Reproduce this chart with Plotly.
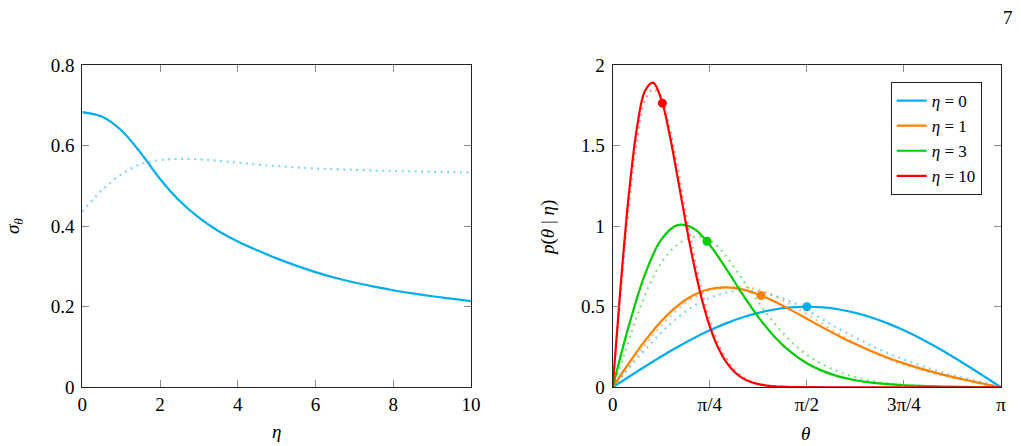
import plotly.graph_objects as go

# ---------------- data: left panel ----------------
eta_grid = [0, 0.5, 1, 1.5, 2, 2.5, 3, 3.5, 4, 4.5, 5, 5.5, 6, 6.5, 7, 7.5, 8, 8.5, 9, 9.5, 10]
sigma_solid = [0.683, 0.672, 0.638, 0.582, 0.517, 0.463, 0.421, 0.388, 0.362, 0.340, 0.320,
               0.302, 0.286, 0.272, 0.260, 0.250, 0.241, 0.233, 0.226, 0.220, 0.214]
sigma_dotted = [0.436, 0.489, 0.528, 0.554, 0.564, 0.567, 0.566, 0.562, 0.558, 0.553, 0.549,
                0.546, 0.543, 0.541, 0.540, 0.538, 0.537, 0.536, 0.535, 0.534, 0.533]

# ---------------- data: right panel ----------------
theta_a = [0, 0.1309, 0.2618, 0.3927, 0.5236, 0.6545, 0.7854, 0.9163, 1.0472, 1.1781, 1.3090,
           1.4399, 1.5708, 1.7017, 1.8326, 1.9635, 2.0944, 2.2253, 2.3562, 2.4871, 2.6180,
           2.7489, 2.8798, 3.0107, 3.1416]
p_eta0 = [0, 0.0653, 0.1294, 0.1913, 0.25, 0.3044, 0.3536, 0.3967, 0.4330, 0.4619, 0.4830,
          0.4957, 0.5, 0.4957, 0.4830, 0.4619, 0.4330, 0.3967, 0.3536, 0.3044, 0.25, 0.1913,
          0.1294, 0.0653, 0]
p_eta1 = [0, 0.1497, 0.2893, 0.4101, 0.5057, 0.5726, 0.6101, 0.6205, 0.6075, 0.5763, 0.5324,
          0.4806, 0.4255, 0.3702, 0.3173, 0.2681, 0.2235, 0.1836, 0.1483, 0.1172, 0.0895,
          0.0646, 0.0419, 0.0206, 0]
p_eta3 = [0, 0.3826, 0.7027, 0.9159, 1.0060, 0.9849, 0.8833, 0.7378, 0.5811, 0.4360,
          0.3144, 0.2196, 0.1497, 0.1004, 0.0665, 0.0439, 0.0289, 0.0191, 0.0127, 0.0084,
          0.0056, 0.0036, 0.0021, 0.0010, 0]
theta_c = [0, 0.0654, 0.1309, 0.1963, 0.2618, 0.3272, 0.3927, 0.4581, 0.5236, 0.5890, 0.6545,
           0.7199, 0.7854, 0.8508, 0.9163, 0.9817, 1.0472, 1.1126, 1.1781, 1.2435, 1.3090,
           1.4399, 1.5708, 1.8326, 2.0944, 2.3562, 2.6180, 2.8798, 3.1416]
p_eta10 = [0, 0.6402, 1.1982, 1.6098, 1.8408, 1.8906, 1.7876, 1.5770, 1.3097, 1.0300, 0.7709,
           0.5512, 0.3779, 0.2492, 0.1586, 0.0977, 0.0584, 0.0340, 0.0193, 0.0107, 0.0058,
           0.0016, 0.0005, 0, 0, 0, 0, 0, 0]

theta_d = [0, 0.1, 0.2, 0.3, 0.4, 0.5, 0.6, 0.7, 0.8, 0.9, 1.0, 1.1, 1.2, 1.3, 1.4, 1.5, 1.6,
           1.7, 1.8, 1.9, 2.0, 2.1, 2.2, 2.3, 2.4, 2.5, 2.6, 2.7, 2.8, 2.9, 3.0, 3.1416]
q_eta0 = [0, 0.09, 0.18, 0.265, 0.345, 0.415, 0.475, 0.525, 0.56, 0.585, 0.598, 0.60, 0.59,
          0.57, 0.545, 0.51, 0.467, 0.421, 0.376, 0.334, 0.295, 0.256, 0.220, 0.188, 0.160,
          0.133, 0.108, 0.086, 0.066, 0.047, 0.030, 0]
q_eta1 = [0, 0.10, 0.20, 0.30, 0.39, 0.465, 0.53, 0.575, 0.605, 0.62, 0.625, 0.62, 0.60, 0.57,
          0.53, 0.485, 0.44, 0.392, 0.345, 0.300, 0.258, 0.220, 0.185, 0.156, 0.130, 0.107,
          0.085, 0.067, 0.050, 0.034, 0.019, 0]
q_eta3 = [0, 0.22, 0.45, 0.64, 0.78, 0.87, 0.92, 0.935, 0.905, 0.83, 0.725, 0.615, 0.505, 0.405,
          0.318, 0.245, 0.185, 0.141, 0.105, 0.077, 0.055, 0.039, 0.027, 0.018, 0.012, 0.008,
          0.005, 0.003, 0.002, 0.001, 0.0005, 0]
q_eta10 = [0, 0.60, 1.12, 1.53, 1.78, 1.85, 1.80, 1.62, 1.37, 1.09, 0.83, 0.60, 0.415, 0.28,
           0.18, 0.112, 0.068, 0.040, 0.023, 0.013, 0.007, 0.002, 0.0006, 0, 0, 0, 0, 0, 0]

theta_mean = [1.5708, 1.200, 0.763, 0.402]
p_mean = [0.5, 0.569, 0.906, 1.763]

labels = ["0", "1", "3", "10"]
x_ticks_left = [0, 2, 4, 6, 8, 10]
y_ticks_left = [0, 0.2, 0.4, 0.6, 0.8]
y_ticks_left_text = ["0", "0.2", "0.4", "0.6", "0.8"]
x_ticks_right = [0, 0.7854, 1.5708, 2.3562, 3.1416]
x_ticks_right_text = ["0", "π/4", "π/2", "3π/4", "π"]
y_ticks_right = [0, 0.5, 1, 1.5, 2]
y_ticks_right_text = ["0", "0.5", "1", "1.5", "2"]

colors = ["#00AEEF", "#FF8000", "#00CC00", "#FF0000"]
colors_light = ["rgba(0,174,239,0.5)", "rgba(255,128,0,0.5)", "rgba(0,204,0,0.5)", "rgba(255,0,0,0.45)"]

FONT = "Liberation Serif"
FS = 19

fig = go.Figure()

DOT = "2px,4.5px"

# left panel
fig.add_trace(go.Scatter(x=eta_grid, y=sigma_dotted, mode="lines", xaxis="x", yaxis="y",
                         line=dict(color=colors_light[0], width=2.2, dash=DOT, shape="spline"),
                         showlegend=False, hoverinfo="skip"))
fig.add_trace(go.Scatter(x=eta_grid, y=sigma_solid, mode="lines", xaxis="x", yaxis="y",
                         line=dict(color=colors[0], width=2.2, shape="spline"),
                         showlegend=False, hoverinfo="skip"))

# right panel dotted
dotted_sets = [(theta_d, q_eta0), (theta_d, q_eta1), (theta_d, q_eta3), (theta_c, q_eta10)]
for (tx, ty), c in zip(dotted_sets, colors_light):
    fig.add_trace(go.Scatter(x=tx, y=ty, mode="lines", xaxis="x2", yaxis="y2",
                             line=dict(color=c, width=2.2, dash=DOT, shape="spline"),
                             showlegend=False, hoverinfo="skip"))

# right panel solid
solid_sets = [(theta_a, p_eta0), (theta_a, p_eta1), (theta_a, p_eta3), (theta_c, p_eta10)]
for (tx, ty), c, lab in zip(solid_sets, colors, labels):
    fig.add_trace(go.Scatter(x=tx, y=ty, mode="lines", xaxis="x2", yaxis="y2",
                             line=dict(color=c, width=2.2, shape="spline"),
                             name="<i>η</i> = " + lab, hoverinfo="skip"))

# means
for i, c in enumerate(colors):
    fig.add_trace(go.Scatter(x=[theta_mean[i]], y=[p_mean[i]], mode="markers", xaxis="x2", yaxis="y2",
                             marker=dict(color=c, size=9), showlegend=False, hoverinfo="skip",
                             cliponaxis=False))

W, H = 1021, 446
def px(x):
    return x / W
def py(y):
    return 1 - y / H

axis_common = dict(showline=True, linecolor="#222", linewidth=1.2, mirror="ticks",
                   ticks="inside", ticklen=7, tickwidth=1, tickcolor="#8a8a8a", automargin=False,
                   showgrid=False, zeroline=False, tickfont=dict(family=FONT, size=FS, color="black"))

def label(text, x, y, angle=0, size=FS):
    return dict(text=text, x=px(x), y=py(y), xref="paper", yref="paper", showarrow=False,
                xanchor="center", yanchor="middle", textangle=angle, font=dict(family=FONT, size=size))

fig.update_layout(
    template="none",
    width=W, height=H, autosize=False, margin=dict(l=0, r=0, t=0, b=0, pad=0),
    paper_bgcolor="white", plot_bgcolor="white",
    font=dict(family=FONT, size=FS, color="black"),
    xaxis=dict(domain=[px(82.3), px(471)], range=[0, 10], tickvals=x_ticks_left, anchor="y", **axis_common),
    yaxis=dict(domain=[py(387.3), py(65)], range=[0, 0.8], tickvals=y_ticks_left,
               ticktext=y_ticks_left_text, anchor="x", ticklabelstandoff=3, **axis_common),
    xaxis2=dict(domain=[px(612.7), px(1001)], range=[0, 3.1416], tickvals=x_ticks_right,
                ticktext=x_ticks_right_text, anchor="y2", **axis_common),
    yaxis2=dict(domain=[py(387.3), py(65)], range=[0, 2], tickvals=y_ticks_right,
                ticktext=y_ticks_right_text, anchor="x2", ticklabelstandoff=3, **axis_common),
    legend=dict(x=px(981.7), xanchor="right", y=py(82), yanchor="top",
                bgcolor="white", bordercolor="#222", borderwidth=1,
                font=dict(family=FONT, size=17), tracegroupgap=0),
    annotations=[
        label("7", 1008, 17),
        label("<i>η</i>", 276.7, 431),
        label("<i>θ</i>", 805.7, 433),
        label("<i>σ</i><sub><i>θ</i></sub>", 14, 226, angle=-90),
        label("<i>p</i>(<i>θ</i> | <i>η</i>)", 548, 228, angle=-90),
    ],
)

fig.write_html("out.html", post_script="document.body.style.margin='0';document.body.style.overflow='hidden';")
